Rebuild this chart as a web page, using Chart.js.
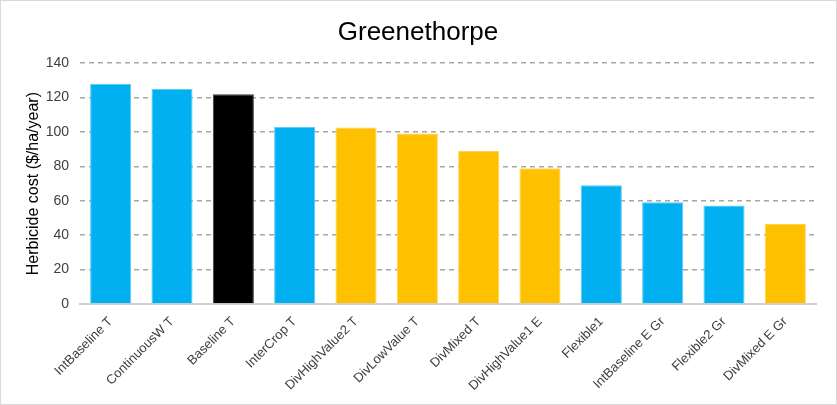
<!DOCTYPE html>
<html>
<head>
<meta charset="utf-8">
<script src="https://cdn.jsdelivr.net/npm/chart.js@4.4.1/dist/chart.umd.min.js"></script>
<style>
    body { margin: 0; background: #fff; }
    #wrap { width: 837px; height: 405px; box-sizing: border-box; border: 1px solid #d9d9d9; }
</style>
</head>
<body>
<div id="wrap"><canvas id="herbicideChart" width="835" height="403"></canvas></div>
<script>
// scenario names along the x axis
const scenarios = [
    'IntBaseline T', 'ContinuousW T', 'Baseline T', 'InterCrop T',
    'DivHighValue2 T', 'DivLowValue T', 'DivMixed T', 'DivHighValue1 E',
    'Flexible1', 'IntBaseline E Gr', 'Flexible2 Gr', 'DivMixed E Gr'
];
// herbicide cost, $/ha/year
const herbicideCost = [128, 125, 122, 103, 102.6, 99.1, 89, 78.9, 69, 59.2, 57.2, 46.5];
// which group each scenario belongs to (decides bar colour)
const scenarioGroup = [
    'intensive', 'intensive', 'baseline', 'intensive',
    'diverse', 'diverse', 'diverse', 'diverse',
    'intensive', 'intensive', 'intensive', 'diverse'
];
const yTicks = [0, 20, 40, 60, 80, 100, 120, 140];

const groupColours = { intensive: '#00b0f0', baseline: '#000000', diverse: '#ffc000' };
const groupBorders = { intensive: '#5cc9f5', baseline: '#404040', diverse: '#ffd24d' };

const ctx = document.getElementById('herbicideChart').getContext('2d');

new Chart(ctx, {
    type: 'bar',
    data: {
        labels: scenarios,
        datasets: [{
            label: 'Herbicide cost',
            data: herbicideCost,
            backgroundColor: scenarioGroup.map(g => groupColours[g]),
            borderColor: scenarioGroup.map(g => groupBorders[g]),
            borderWidth: 1,
            barPercentage: 0.67,
            categoryPercentage: 1
        }]
    },
    options: {
        responsive: false,
        animation: false,
        layout: { padding: { left: 19, right: 20, top: 0, bottom: 0 } },
        scales: {
            x: {
                afterFit: axis => { axis.height = 100; },
                grid: { display: false, drawTicks: false },
                border: { display: true, color: '#d0d0d0', width: 2 },
                ticks: {
                    color: '#404040',
                    maxRotation: 45,
                    minRotation: 45,
                    padding: 10,
                    font: { family: 'Liberation Sans, Arial', size: 13 }
                }
            },
            y: {
                min: 0,
                max: 140,
                afterBuildTicks: axis => { axis.ticks = yTicks.map(v => ({ value: v })); },
                afterFit: axis => { axis.width = 60; },
                grid: {
                    color: c => c.tick && c.tick.value === 0 ? 'rgba(0,0,0,0)' : '#a6a6a6',
                    lineWidth: 1.5,
                    drawTicks: false
                },
                border: { display: false, dash: [5, 4] },
                ticks: {
                    color: '#404040',
                    padding: 11,
                    font: { family: 'Liberation Sans, Arial', size: 14 }
                },
                title: {
                    display: true,
                    text: 'Herbicide cost ($/ha/year)',
                    color: '#000',
                    padding: { bottom: 6 },
                    font: { family: 'Liberation Sans, Arial', size: 16 }
                }
            }
        },
        plugins: {
            legend: { display: false },
            tooltip: { enabled: false },
            title: {
                display: true,
                text: 'Greenethorpe',
                color: '#000',
                padding: { top: 16, bottom: 15 },
                font: { family: 'Liberation Sans, Arial', size: 26, weight: 'normal' }
            }
        }
    }
});
</script>
</body>
</html>
